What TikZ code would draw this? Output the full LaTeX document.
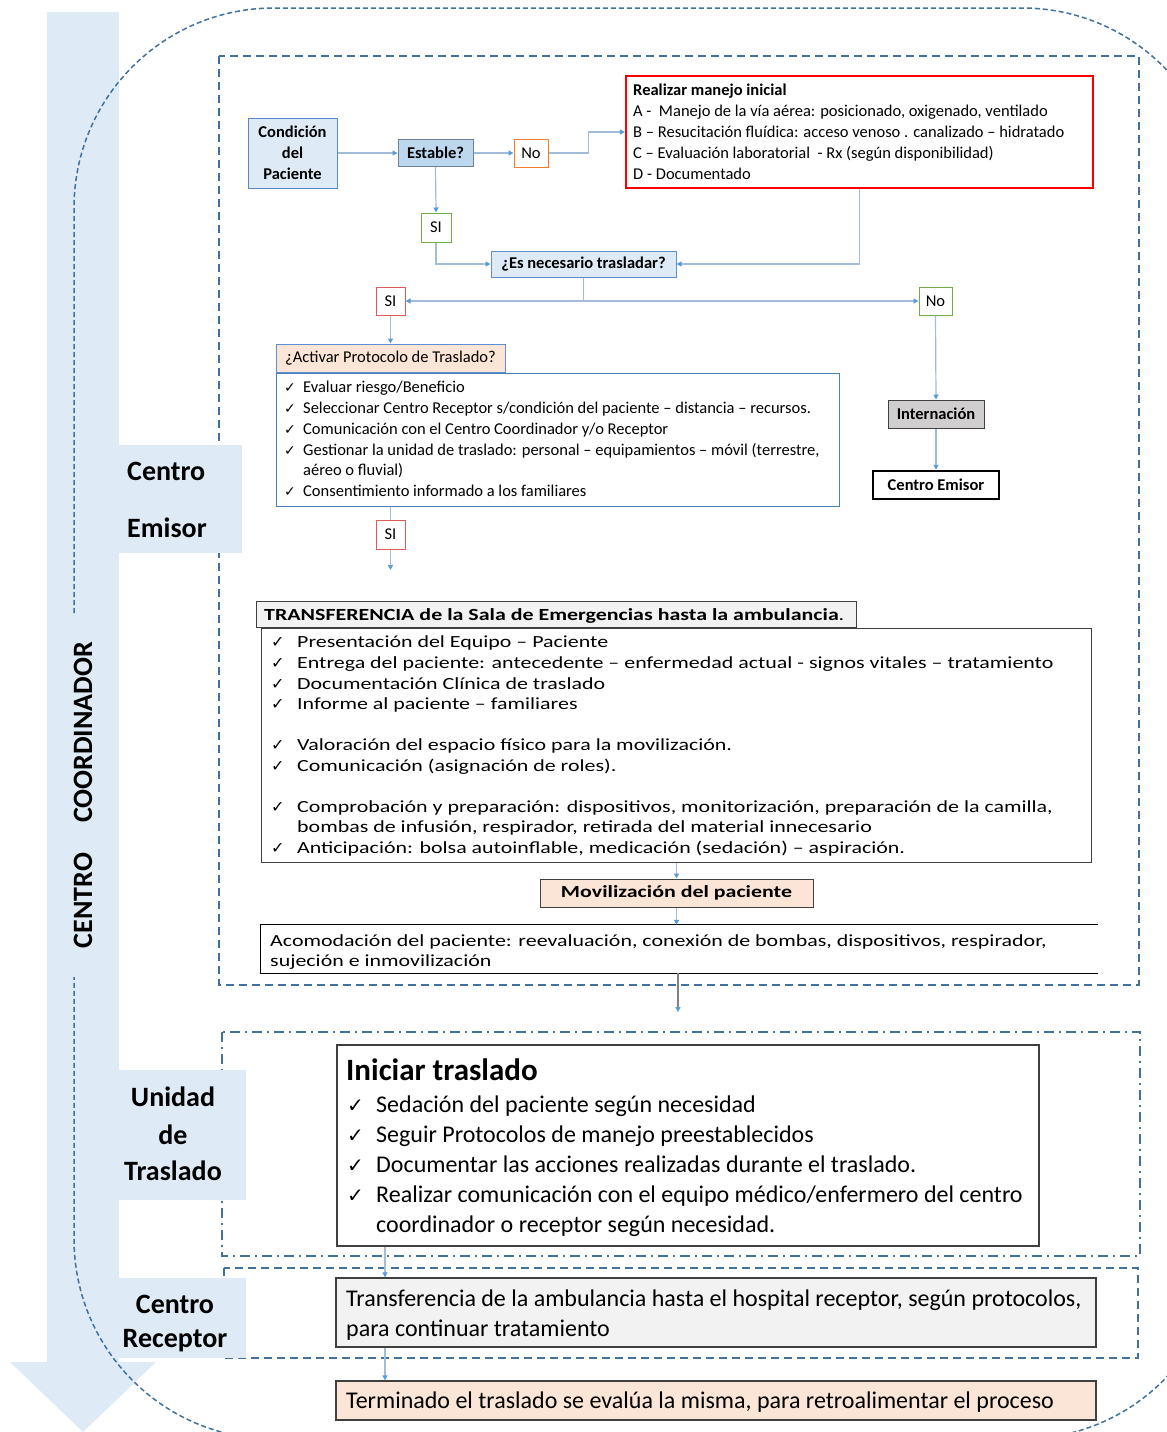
\documentclass[tikz,border=0pt]{standalone}
\usepackage{fontspec}
\setmainfont{Carlito}
\newfontfamily\widefam[FakeStretch=1.29]{Carlito}
\newfontfamily\symfam{DejaVu Sans}
\usetikzlibrary{arrows.meta}

\definecolor{band}{HTML}{DEEAF6}
\definecolor{dashblue}{HTML}{41719C}
\definecolor{lightfill}{HTML}{DEEBF7}
\definecolor{midfill}{HTML}{BDD7EE}
\definecolor{condblue}{HTML}{5A86CC}
\definecolor{boxblue}{HTML}{5B8FCF}
\definecolor{listblue}{HTML}{4A7EBB}
\definecolor{estgray}{HTML}{6F7F95}
\definecolor{peach}{HTML}{FBE5D6}
\definecolor{paleg}{HTML}{F2F2F2}
\definecolor{greyfill}{HTML}{D0CECE}
\definecolor{darkframe}{HTML}{404040}
\definecolor{connline}{HTML}{A3BCD8}
\definecolor{tipblue}{HTML}{5B9BD5}
\definecolor{okgreen}{HTML}{70AD47}
\definecolor{noorange}{HTML}{ED7D31}
\definecolor{sired}{HTML}{E05A5A}

\newcommand\fs[2]{\fontsize{#1}{#2}\selectfont}
\newcommand\ckmark[1]{{\symfam\fontsize{#1}{#1}\selectfont ✓}}

\begin{document}
\begin{tikzpicture}[x=1pt,y=-1pt,
  box/.style={draw, rectangle, inner sep=0pt, line width=1pt},
  item/.style={anchor=mid west, inner sep=0pt},
  lab/.style={inner sep=0pt, font=\fs{28}{32}\bfseries},
  conn/.style={draw=connline, line width=1.2pt},
  arr/.style={conn, -{Triangle[length=5pt,width=5pt,color=tipblue]}},
  region/.style={draw=dashblue, line width=2pt, dash pattern=on 8pt off 5pt},
  small/.style={font=\fs{16.5}{19}},
  smallb/.style={font=\fs{16.5}{19}\bfseries},
  wide/.style={font=\widefam\fs{17}{20}},
  big/.style={font=\fs{24}{28}},
  sline/.style={item, small, yshift=-3.5pt},
  wline/.style={item, wide, yshift=-4pt},
  bline/.style={item, big, yshift=-5.5pt},
]
\useasboundingbox (0,0) rectangle (1167,1432);

% coordinator band with its arrowhead
\fill[band] (47,12) -- (119,12) -- (119,1362) -- (156,1362) -- (83,1432)
  -- (10,1362) -- (47,1362) -- cycle;

% outer rounded outline, open where the band label sits
\draw[draw=dashblue, line width=1.5pt, dash pattern=on 5pt off 3pt, rounded corners=200pt]
  (74,613) -- (74,8) -- (1222,8) -- (1222,1439) -- (74,1439) -- (74,977);

% stage regions
\draw[region] (219,56) rectangle (1139,985);
\draw[draw=dashblue, line width=2pt, dash pattern=on 10pt off 5pt on 2pt off 5pt]
  (222,1032) rectangle (1140,1256);
\draw[region] (224,1268) rectangle (1138,1358);

% stage tabs
\fill[band] (119,445) rectangle (242,553);
\fill[band] (119,1070) rectangle (246,1200);
\fill[band] (119,1278) rectangle (246,1358);

\node[lab, anchor=mid west, yshift=-6.5pt] (ce1) at (127,472) {Centro};
\node[lab, anchor=mid west, yshift=-6.5pt] (ce2) at (127,529) {Emisor};
\node[lab, anchor=mid, yshift=-6.5pt] (ut1) at (173,1098) {Unidad};
\node[lab, anchor=mid, yshift=-6.5pt] (ut2) at (173,1136) {de};
\node[lab, anchor=mid, yshift=-6.5pt] (ut3) at (173,1172) {Traslado};
\node[lab, anchor=mid, yshift=-6.5pt] (cr1) at (175,1305) {Centro};
\node[lab, anchor=mid, yshift=-6.5pt] (cr2) at (175,1339) {Receptor};
\node[lab, rotate=90] (cc) at (83,795) {CENTRO\hspace{30pt}COORDINADOR};

% ---------- Centro Emisor flow ----------
\node[box, fill=lightfill, draw=condblue, minimum width=89pt, minimum height=70pt,
  align=center, font=\fs{16.5}{21}\bfseries] (cond) at (292.5,153) {Condición\\del\\Paciente};
\node[box, fill=midfill, draw=estgray, minimum width=75pt, minimum height=27pt, smallb]
  (est) at (435.5,153) {Estable?};
\node[box, fill=white, draw=noorange, minimum width=34pt, minimum height=28pt, small]
  (no1) at (531,153) {No};

\node[box, draw=red, line width=2.2pt, minimum width=467pt, minimum height=112pt]
  (manejo) at (859.5,132) {};
\node[sline, font=\fs{16.5}{19}\bfseries] (m0) at (633,90) {Realizar manejo inicial};
\node[sline] (m1) at (633,111) {A -\ \ Manejo de la vía aérea: posicionado, oxigenado, ventilado};
\node[sline] (m2) at (633,132) {B – Resucitación fluídica: acceso venoso . canalizado – hidratado};
\node[sline] (m3) at (633,153) {C – Evaluación laboratorial\ \ - Rx (según disponibilidad)};
\node[sline] (m4) at (633,174) {D - Documentado};

\node[box, fill=white, draw=okgreen, minimum width=30pt, minimum height=29pt, small]
  (si1) at (436,227.5) {SI};
\node[box, fill=lightfill, draw=boxblue, minimum width=185pt, minimum height=26pt, smallb]
  (nec) at (583.5,264) {¿Es necesario trasladar?};
\node[box, fill=white, draw=sired, minimum width=29pt, minimum height=28pt, small]
  (si2) at (390.5,301) {SI};
\node[box, fill=white, draw=okgreen, minimum width=33pt, minimum height=28pt, small]
  (no2) at (935.5,301) {No};

\node[box, fill=peach, draw=boxblue, minimum width=229pt, minimum height=28pt, small]
  (act) at (390.5,358) {¿Activar Protocolo de Traslado?};
\node[box, fill=white, draw=listblue, minimum width=563pt, minimum height=133pt]
  (plist) at (557.5,439.5) {};
\node[sline] (p1) at (284,387) {\makebox[19pt][l]{\ckmark{14}}Evaluar riesgo/Beneficio};
\node[sline] (p2) at (284,408) {\makebox[19pt][l]{\ckmark{14}}Seleccionar Centro Receptor s/condición del paciente – distancia – recursos.};
\node[sline] (p3) at (284,429) {\makebox[19pt][l]{\ckmark{14}}Comunicación con el Centro Coordinador y/o Receptor};
\node[sline] (p4) at (284,450) {\makebox[19pt][l]{\ckmark{14}}Gestionar la unidad de traslado: personal – equipamientos – móvil (terrestre,};
\node[sline] (p4b) at (303,470) {aéreo o fluvial)};
\node[sline] (p5) at (284,491) {\makebox[19pt][l]{\ckmark{14}}Consentimiento informado a los familiares};

\node[box, fill=white, draw=sired, minimum width=29pt, minimum height=29pt, small]
  (si3) at (390.5,534.5) {SI};
\coordinate (siend) at (390.5,570);

\node[box, fill=greyfill, draw=darkframe, minimum width=96pt, minimum height=28pt, smallb]
  (intern) at (936,414) {Internación};
\node[box, fill=white, draw=black, line width=2.5pt, minimum width=126pt, minimum height=28pt, smallb]
  (cemisor) at (936,485) {Centro Emisor};

% ---------- transfer to the ambulance ----------
\node[box, fill=paleg, draw=darkframe, minimum width=600pt, minimum height=26pt]
  (thead) at (556,614) {};
\node[wline, font=\widefam\fs{17}{20}\bfseries] (theadtxt) at (264,614)
  {TRANSFERENCIA de la Sala de Emergencias hasta la ambulancia{\mdseries .}};
\node[box, fill=white, draw=darkframe, minimum width=830pt, minimum height=234pt]
  (tlist) at (676,745) {};
\node[wline] (t1) at (271,641) {\makebox[26pt][l]{\ckmark{16}}Presentación del Equipo – Paciente};
\node[wline] (t2) at (271,662) {\makebox[26pt][l]{\ckmark{16}}Entrega del paciente: antecedente – enfermedad actual - signos vitales – tratamiento};
\node[wline] (t3) at (271,683) {\makebox[26pt][l]{\ckmark{16}}Documentación Clínica de traslado};
\node[wline] (t4) at (271,703) {\makebox[26pt][l]{\ckmark{16}}Informe al paciente – familiares};
\node[wline] (t5) at (271,744) {\makebox[26pt][l]{\ckmark{16}}Valoración del espacio físico para la movilización.};
\node[wline] (t6) at (271,765) {\makebox[26pt][l]{\ckmark{16}}Comunicación (asignación de roles).};
\node[wline] (t7) at (271,806) {\makebox[26pt][l]{\ckmark{16}}Comprobación y preparación: dispositivos, monitorización, preparación de la camilla,};
\node[wline] (t7b) at (297,826) {bombas de infusión, respirador, retirada del material innecesario};
\node[wline] (t8) at (271,847) {\makebox[26pt][l]{\ckmark{16}}Anticipación: bolsa autoinflable, medicación (sedación) – aspiración.};

\node[box, fill=peach, draw=darkframe, minimum width=273pt, minimum height=28pt,
  font=\widefam\fs{17}{20}\bfseries] (movil) at (676.5,893) {Movilización del paciente};

\node[inner sep=0pt, minimum width=837pt, minimum height=48pt] (acom) at (679.5,949) {};
\draw[line width=1pt] (acom.north east) -- (acom.north west) -- (acom.south west) -- (acom.south east);
\node[wline] (a1) at (270,940) {Acomodación del paciente: reevaluación, conexión de bombas, dispositivos, respirador,};
\node[wline] (a2) at (270,960) {sujeción e inmovilización};
\coordinate (acomend) at (678,1012);

% ---------- transport unit and receiving centre ----------
\node[box, fill=white, draw=darkframe, line width=1.3pt, minimum width=702pt, minimum height=201pt]
  (iniciar) at (688,1145.5) {};
\node[item, font=\fs{31}{34}\bfseries, yshift=-7pt] (it0) at (346,1071) {Iniciar traslado};
\node[bline] (it1) at (347,1105) {\makebox[29pt][l]{\ckmark{20}}Sedación del paciente según necesidad};
\node[bline] (it2) at (347,1135) {\makebox[29pt][l]{\ckmark{20}}Seguir Protocolos de manejo preestablecidos};
\node[bline] (it3) at (347,1165) {\makebox[29pt][l]{\ckmark{20}}Documentar las acciones realizadas durante el traslado.};
\node[bline] (it4) at (347,1195) {\makebox[29pt][l]{\ckmark{20}}Realizar comunicación con el equipo médico/enfermero del centro};
\node[bline] (it4b) at (376,1225) {coordinador o receptor según necesidad.};

\node[box, fill=paleg, draw=darkframe, line width=1.3pt, minimum width=760pt, minimum height=69pt]
  (trans) at (716,1312.5) {};
\node[bline] (tr1) at (346,1299) {Transferencia de la ambulancia hasta el hospital receptor, según protocolos,};
\node[bline] (tr2) at (346,1329) {para continuar tratamiento};

\node[box, fill=peach, draw=darkframe, line width=1.3pt, minimum width=760pt, minimum height=39pt]
  (term) at (716,1400.5) {};
\node[bline] (te1) at (346,1401) {Terminado el traslado se evalúa la misma, para retroalimentar el proceso};

\coordinate (xa) at (385,0);

% ---------- connectors ----------
\draw[arr] (cond.east) -- (est.west);
\draw[arr] (est.east) -- (no1.west);
\draw[arr] (no1.east) -- ++(40,0) |- (manejo.west);
\draw[arr] (est.south) -- (si1.north);
\draw[arr] (si1.south) |- (nec.west);
\draw[arr] (manejo.south) |- (nec.east);
\coordinate (split) at (nec.south |- si2);
\draw[conn] (nec.south) -- (split);
\draw[arr] (split) -- (si2.east);
\draw[arr] (split) -- (no2.west);
\draw[arr] (si2.south) -- (act.north);
\draw[conn] (si3.north |- plist.south) -- (si3.north);
\draw[arr] (si3.south) -- (siend);
\draw[arr] (no2.south) -- (intern.north);
\draw[arr] (intern.south) -- (cemisor.north);
\draw[arr] (movil.north |- tlist.south) -- (movil.north);
\draw[arr] (movil.south) -- (movil.south |- acom.north);
\draw[arr, draw=gray] (acomend |- acom.south) -- (acomend);
\draw[arr] (xa |- iniciar.south) -- (xa |- trans.north);
\draw[arr] (xa |- trans.south) -- (xa |- term.north);
\end{tikzpicture}
\end{document}
